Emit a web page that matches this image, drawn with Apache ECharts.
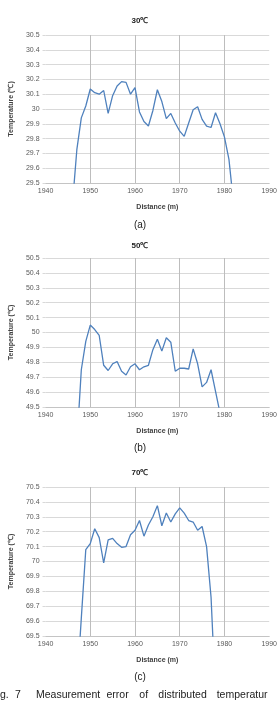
<!DOCTYPE html>
<html><head><meta charset="utf-8">
<script src="https://cdn.jsdelivr.net/npm/echarts@6/dist/echarts.min.js"></script>
<style>html,body{margin:0;padding:0;background:#fff}#c{width:280px;height:705px}</style>
</head><body><div id="c"></div>
<script>
// ---- data ----
const titles = ["30℃", "50℃", "70℃"];
const panelLabels = ["(a)", "(b)", "(c)"];
const xName = "Distance (m)";
const yName = "Temperature (℃)";
const xMin = 1940, xMax = 1990, xStep = 10;

const dist1 = [1946,1947,1948,1949,1950,1951,1952,1953,1954,1955,1956,1957,1958,1959,1960,1961,1962,1963,1964,1965,1966,1967,1968,1969,1970,1971,1972,1973,1974,1975,1976,1977,1978,1979,1980,1981,1982];
const temp1 = [29.35,29.725,29.94,30.02,30.135,30.11,30.10,30.125,29.97,30.09,30.155,30.185,30.18,30.10,30.145,29.98,29.915,29.885,29.99,30.13,30.05,29.935,29.97,29.905,29.85,29.815,29.905,29.995,30.015,29.93,29.885,29.875,29.975,29.90,29.81,29.66,29.37];

const dist2 = [1947,1948,1949,1950,1951,1952,1953,1954,1955,1956,1957,1958,1959,1960,1961,1962,1963,1964,1965,1966,1967,1968,1969,1970,1971,1972,1973,1974,1975,1976,1977,1978,1979];
const temp2 = [49.25,49.75,49.94,50.05,50.02,49.98,49.78,49.745,49.79,49.805,49.74,49.715,49.77,49.79,49.75,49.77,49.78,49.885,49.955,49.875,49.965,49.935,49.74,49.76,49.76,49.755,49.89,49.79,49.635,49.665,49.75,49.605,49.46];

const dist3 = [1947,1948,1949,1950,1951,1952,1953,1954,1955,1956,1957,1958,1959,1960,1961,1962,1963,1964,1965,1966,1967,1968,1969,1970,1971,1972,1973,1974,1975,1976,1977,1978];
const temp3 = [69.15,69.62,70.08,70.12,70.22,70.16,69.99,70.145,70.155,70.12,70.095,70.10,70.18,70.21,70.275,70.17,70.245,70.30,70.375,70.24,70.325,70.265,70.32,70.36,70.325,70.275,70.265,70.21,70.235,70.10,69.76,69.1];

const yMins = [29.5, 49.5, 69.5];
const yMaxs = [30.5, 50.5, 70.5];
const yStep = 0.1;

const captionWords = ["g.", "7", "Measurement", "error", "of", "distributed", "temperatur"];

// ---- layout ----
const grids = [
  {left:35, width:236, top:35, height:148},
  {left:35, width:236, top:258, height:149},
  {left:35, width:236, top:487, height:149}
];
const titleY = [22, 247, 474];
const panelY = [226, 449, 678];
const captionX = [0, 15, 36, 106.5, 139.3, 158.3, 216.7];
const captionY = 696;

const FONT = "'Liberation Sans', Arial, sans-serif";
const lineColor = "#4f81bd";
const series = [[dist1,temp1],[dist2,temp2],[dist3,temp3]];

const option = {
  animation:false,
  backgroundColor:'#fff',
  grid: grids.map(g => Object.assign({containLabel:false}, g)),
  xAxis: grids.map((g,i) => ({
    gridIndex:i, type:'value', min:xMin, max:xMax, interval:xStep,
    name:xName, nameLocation:'middle', nameGap:21,
    nameTextStyle:{fontFamily:FONT, fontSize:7, fontWeight:'bold', color:'#404040'},
    axisLine:{show:true, lineStyle:{color:'#c4c4c4', width:1}},
    axisTick:{show:false},
    axisLabel:{fontFamily:FONT, fontSize:7, color:'#595959', margin:5, showMaxLabel:true, showMinLabel:true,
      formatter: v => String(v)},
    splitLine:{show:true, showMinLine:false, showMaxLine:false, lineStyle:{color:'#bdbdbd', width:1}}
  })),
  yAxis: grids.map((g,i) => ({
    gridIndex:i, type:'value', min:yMins[i], max:yMaxs[i], interval:yStep,
    name:yName, nameLocation:'middle', nameGap:27, nameRotate:90,
    nameTextStyle:{fontFamily:FONT, fontSize:7, fontWeight:'bold', color:'#404040'},
    axisLine:{show:false},
    axisTick:{show:true, length:3, lineStyle:{color:'#d9d9d9'}},
    axisLabel:{fontFamily:FONT, fontSize:7, color:'#595959', margin:6,
      formatter: v => String(parseFloat(v.toFixed(1)))},
    splitLine:{show:true, lineStyle:{color:'#d9d9d9', width:1}}
  })),
  series: series.map((s,i) => ({
    type:'line', xAxisIndex:i, yAxisIndex:i, clip:true,
    data: s[0].map((x,k) => [x, s[1][k]]),
    showSymbol:false, symbol:'none',
    lineStyle:{color:lineColor, width:1.3}
  })),
  graphic: [].concat(
    titles.map((t,i) => ({type:'text', left:'center', top:titleY[i]-5,
      style:{text:t, font:"bold 8px "+FONT, fill:'#222'}})),
    panelLabels.map((t,i) => ({type:'text', left:'center', top:panelY[i]-6,
      style:{text:t, font:"10px "+FONT, fill:'#222'}})),
    captionWords.map((w,i) => ({type:'text', x:captionX[i], y:captionY-6,
      style:{text:w, font:"10.5px "+FONT, fill:'#222'}}))
  )
};
const chart = echarts.init(document.getElementById('c'), null, {renderer:'canvas'});
chart.setOption(option);
</script></body></html>
